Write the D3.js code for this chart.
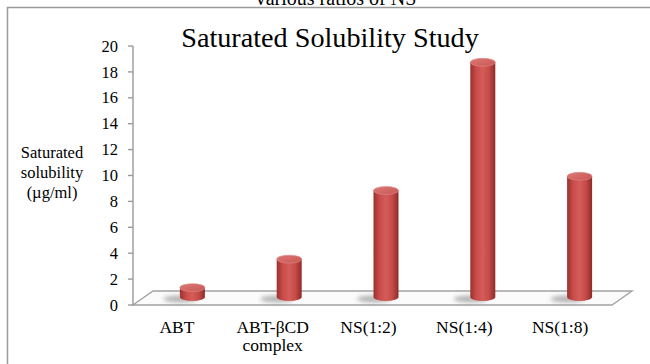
<!DOCTYPE html>
<html>
<head>
<meta charset="utf-8">
<script src="https://cdn.jsdelivr.net/npm/d3@7"></script>
<style>
  html, body { margin: 0; padding: 0; background: #fff; }
  svg { display: block; font-family: "Liberation Serif", "Times New Roman", serif; }
</style>
</head>
<body>
<svg id="chart" width="650" height="364"></svg>
<script>
// Saturated solubility of ABT formulations
const categories = ["ABT", "ABT-\u03B2CD complex", "NS(1:2)", "NS(1:4)", "NS(1:8)"];
const solubility = [0.8, 3.0, 8.3, 18.2, 9.4];
const yTicks = [0, 2, 4, 6, 8, 10, 12, 14, 16, 18, 20];

const svg = d3.select("#chart");
const W = 650, H = 364;

// 3D floor geometry: front edge and depth offset
const x0 = 133, x1 = 612, yFront = 305, yTop = 46;
const depthX = 20, depthY = 14;

const y = d3.scaleLinear().domain([0, 20]).range([yFront, yTop]);
const xLabel = d3.scaleBand().domain(categories).range([x0, x1]);
const xBar = d3.scaleBand().domain(categories).range([x0 + depthX / 2 + 1, x1 + depthX / 2 + 6]);

// caption of the preceding figure, clipped by the page edge
svg.append("text")
  .attr("x", 336).attr("y", 5)
  .attr("text-anchor", "middle")
  .attr("font-size", 20)
  .text("various ratios of NS");

// chart frame (top and left edges visible)
svg.append("path")
  .attr("d", `M7.5,${H} L7.5,7.5 L${W},7.5`)
  .attr("fill", "none")
  .attr("stroke", "#9a9a9a")
  .attr("stroke-width", 1.5);

// title
svg.append("text")
  .attr("x", 330).attr("y", 47)
  .attr("text-anchor", "middle")
  .attr("font-size", 28.2)
  .text("Saturated Solubility Study");

const defs = svg.append("defs");
const bodyGrad = defs.append("linearGradient").attr("id", "cyl").attr("x1", 0).attr("x2", 1).attr("y1", 0).attr("y2", 0);
[["0%", "#9a312e"], ["25%", "#c94d4a"], ["50%", "#d45c59"], ["75%", "#c44b48"], ["100%", "#8f2b28"]]
  .forEach(([o, c]) => bodyGrad.append("stop").attr("offset", o).attr("stop-color", c));
const topGrad = defs.append("linearGradient").attr("id", "cylTop").attr("x1", 0).attr("x2", 1).attr("y1", 0).attr("y2", 1);
[["0%", "#dc7a77"], ["100%", "#c85552"]]
  .forEach(([o, c]) => topGrad.append("stop").attr("offset", o).attr("stop-color", c));
defs.append("filter").attr("id", "soft").attr("x", "-50%").attr("y", "-100%").attr("width", "200%").attr("height", "300%")
  .append("feGaussianBlur").attr("stdDeviation", 2.2);

// floor
const floor = [[x0, yFront], [x1, yFront], [x1 + depthX, yFront - depthY], [x0 + depthX, yFront - depthY]];
svg.append("path")
  .attr("d", d3.line()(floor) + "Z")
  .attr("fill", "#fbfbfb")
  .attr("stroke", "#a3a3a3")
  .attr("stroke-width", 1.4);

// y axis
const axis = svg.append("g").attr("transform", `translate(${x0},0)`);
axis.append("line").attr("x1", 0).attr("x2", 0).attr("y1", y(20)).attr("y2", y(0))
  .attr("stroke", "#9a9a9a").attr("stroke-width", 1.4);
axis.selectAll(".tk").data(yTicks).join("line")
  .attr("x1", -5).attr("x2", 0).attr("y1", d => y(d)).attr("y2", d => y(d))
  .attr("stroke", "#9a9a9a").attr("stroke-width", 1.4);
axis.selectAll(".lb").data(yTicks).join("text")
  .attr("x", -15).attr("y", d => y(d)).attr("dy", "0.34em")
  .attr("text-anchor", "end").attr("font-size", 16.5)
  .text(d => d);

// y axis title
svg.append("text")
  .attr("text-anchor", "middle").attr("font-size", 16.5)
  .selectAll("tspan").data(["Saturated", "solubility", "(\u00B5g/ml)"]).join("tspan")
  .attr("x", 52).attr("y", (d, i) => 158 + i * 20)
  .text(d => d);

// cylinders, standing on the middle of the floor depth
const rx = 12.5, ry = 4;
const base = yFront - depthY / 2 - 1;
const bars = svg.append("g").selectAll("g").data(categories).join("g");
bars.append("ellipse")
  .attr("cx", d => xBar(d) + xBar.bandwidth() / 2 - 12)
  .attr("cy", base + 2)
  .attr("rx", 17).attr("ry", 3.5)
  .attr("fill", "#7a7a7a").attr("opacity", 0.55)
  .attr("filter", "url(#soft)");
bars.append("path")
  .attr("d", (d, i) => {
    const cx = xBar(d) + xBar.bandwidth() / 2;
    const t = y(solubility[i]) - depthY / 2;
    return `M${cx - rx},${t} L${cx - rx},${base} A${rx},${ry} 0 0 0 ${cx + rx},${base} L${cx + rx},${t} Z`;
  })
  .attr("fill", "url(#cyl)");
bars.append("ellipse")
  .attr("cx", d => xBar(d) + xBar.bandwidth() / 2)
  .attr("cy", (d, i) => y(solubility[i]) - depthY / 2)
  .attr("rx", rx).attr("ry", ry)
  .attr("fill", "url(#cylTop)")
  .attr("stroke", "#e08b88").attr("stroke-width", 0.6);

// category labels
const labels = svg.append("g").selectAll("text").data(categories).join("text")
  .attr("text-anchor", "middle").attr("font-size", 17.5);
labels.each(function (d) {
  const parts = d === "ABT-\u03B2CD complex" ? ["ABT-\u03B2CD", "complex"] : [d];
  d3.select(this).selectAll("tspan").data(parts).join("tspan")
    .attr("x", xLabel(d) + xLabel.bandwidth() / 2 - 4)
    .attr("y", (p, i) => 333 + i * 18)
    .text(p => p);
});
</script>
</body>
</html>
